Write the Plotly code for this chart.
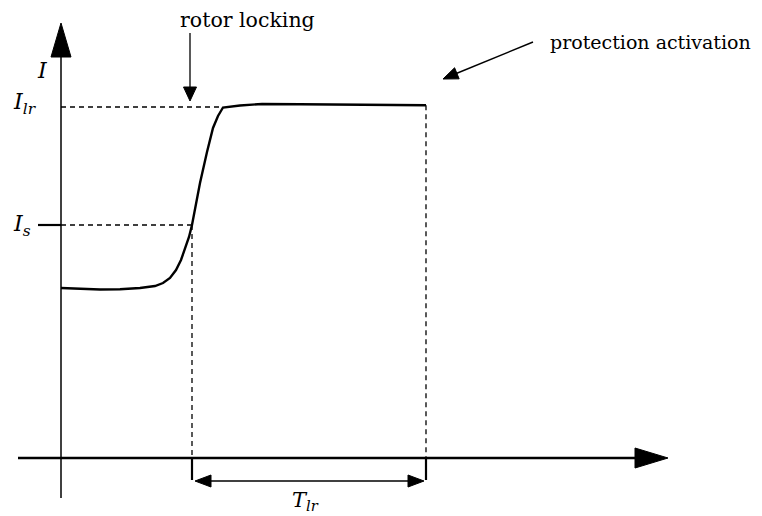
import plotly.graph_objects as go

# ---- data (time t, current I in arbitrary schematic units) ----
t_curve = [0.00, 0.19, 0.39, 0.59, 0.79, 0.94, 1.02, 1.09, 1.15, 1.20, 1.24, 1.28,
           1.31, 1.35, 1.39, 1.46, 1.52, 1.57, 1.62, 1.79, 2.01, 2.39, 2.89, 3.65]
I_curve = [1.70, 1.69, 1.685, 1.687, 1.70, 1.72, 1.75, 1.80, 1.88, 1.98, 2.09, 2.21,
           2.33, 2.54, 2.75, 3.06, 3.30, 3.42, 3.505, 3.525, 3.54, 3.537, 3.532, 3.528]

I_lr = 3.51          # locked-rotor current level
I_s = 2.33           # threshold current level
t_lock = 1.31        # time current crosses I_s
t_lr_knee = 1.62     # time current reaches I_lr
t_prot = 3.65        # protection activation time
I_end = 3.528        # current at protection time

t_axis = [-0.43, 6.07]   # horizontal axis extent (tip)
I_axis = [-0.40, 4.35]   # vertical axis extent (tip)

tick_depth = -0.22
span_level = -0.23

rotor_arrow_t = 1.29
rotor_arrow_I = [4.25, 3.57]
rotor_text = (1.865, 4.38)
prot_arrow = [(4.72, 4.16), (3.82, 3.79)]
prot_text = (4.89, 4.16)

PX = 100.0  # pixels per unit (both axes)

FONT = "DejaVu Serif"

fig = go.Figure()


def line(xs, ys, width=1.5, dash=None):
    fig.add_trace(go.Scatter(x=xs, y=ys, mode="lines",
                             line=dict(color="black", width=width, dash=dash),
                             hoverinfo="skip", showlegend=False))


def tri(tip, direction, length_px, half_px):
    tx, ty = tip
    dx, dy = direction
    n = (dx * dx + dy * dy) ** 0.5
    dx, dy = dx / n, dy / n
    L = length_px / PX
    H = half_px / PX
    bx, by = tx - dx * L, ty - dy * L
    px_, py_ = -dy, dx
    xs = [tx, bx + px_ * H, bx - px_ * H, tx]
    ys = [ty, by + py_ * H, by - py_ * H, ty]
    fig.add_trace(go.Scatter(x=xs, y=ys, mode="lines", fill="toself",
                             fillcolor="black", line=dict(color="black", width=1),
                             hoverinfo="skip", showlegend=False))


DASH = "5px,4px"

# dashed guides
line([0, t_lr_knee], [I_lr, I_lr], 1.3, DASH)
line([0, t_lock], [I_s, I_s], 1.3, DASH)
line([t_lock, t_lock], [I_s, 0], 1.3, DASH)
line([t_prot, t_prot], [I_end, 0], 1.3, DASH)

# axes
line([0, 0], [I_axis[0], I_axis[1] - 0.30], 1.5)
tri((0, I_axis[1]), (0, 1), 34, 10)
line([t_axis[0], t_axis[1] - 0.30], [0, 0], 2.5)
tri((t_axis[1], 0), (1, 0), 33, 10)

# I_s tick
line([-0.23, 0], [I_s, I_s], 2.2)

# time ticks below axis
line([t_lock, t_lock], [0, tick_depth], 2.2)
line([t_prot, t_prot], [0, tick_depth], 2.2)

# T_lr double arrow
line([t_lock + 0.1, t_prot - 0.1], [span_level, span_level], 1.5)
tri((t_lock + 0.03, span_level), (-1, 0), 16, 6)
tri((t_prot - 0.02, span_level), (1, 0), 16, 6)

# current curve
fig.add_trace(go.Scatter(x=t_curve, y=I_curve, mode="lines",
                         line=dict(color="black", width=2.4),
                         hoverinfo="skip", showlegend=False))

# rotor locking arrow
line([rotor_arrow_t, rotor_arrow_t], [rotor_arrow_I[0], rotor_arrow_I[1] + 0.1], 1.3)
tri((rotor_arrow_t, rotor_arrow_I[1]), (0, -1), 14, 6.5)

# protection activation arrow
(ax0, ay0), (ax1, ay1) = prot_arrow
fig.add_trace(go.Scatter(x=[ax0, ax1 + (ax0 - ax1) * 0.1], y=[ay0, ay1 + (ay0 - ay1) * 0.1],
                         mode="lines", line=dict(color="black", width=1.5),
                         hoverinfo="skip", showlegend=False))
tri((ax1, ay1), (ax1 - ax0, ay1 - ay0), 15, 6)

ann = []


def text(x, y, s, size=20, xanchor="center"):
    ann.append(dict(x=x, y=y, xref="x", yref="y", text=s, showarrow=False,
                    xanchor=xanchor, yanchor="middle",
                    font=dict(family=FONT, size=size, color="black")))


text(rotor_text[0], rotor_text[1], "rotor locking", 20.5)
text(prot_text[0] - 0.02, prot_text[1], "protection activation", 19)
ann[-1]["xanchor"] = "left"
text(-0.19, 3.88, "<i>I</i>", 22)
text(-0.36, 3.55, "<i>I</i><sub><i>lr</i></sub>", 22)
text(-0.39, 2.33, "<i>I</i><sub><i>s</i></sub>", 22)
text(2.44, -0.43, "<i>T</i><sub><i>lr</i></sub>", 21)

# page has an 8px body margin: figure origin is at page (8, 8)
fig.update_layout(
    width=754, height=508, autosize=False,
    margin=dict(l=0, r=0, t=0, b=0),
    paper_bgcolor="white", plot_bgcolor="white",
    xaxis=dict(range=[-0.53, 7.01], visible=False, fixedrange=True),
    yaxis=dict(range=[-0.58, 4.50], visible=False, fixedrange=True),
    annotations=ann, showlegend=False,
)

fig.write_html("out.html")
